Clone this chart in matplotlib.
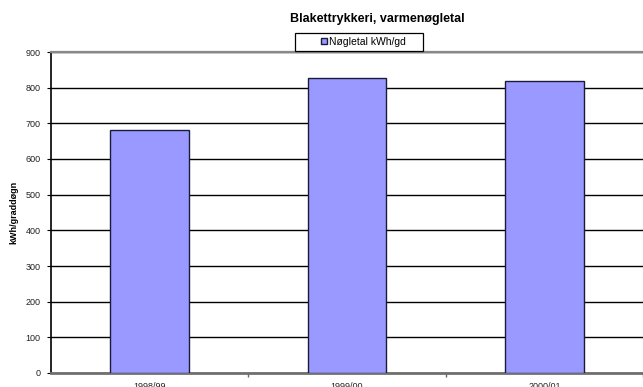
import matplotlib
matplotlib.use("Agg")
import matplotlib.pyplot as plt
from matplotlib.patches import Rectangle

plt.rcParams['font.family'] = ['Liberation Sans', 'DejaVu Sans']

# data
years = ["1998/99", "1999/00", "2000/01"]
values = [681, 828, 819]
series_name = "Nøgletal kWh/gd"
bar_color = "#9999FF"

W, H = 643, 387
fig = plt.figure(figsize=(W / 100, H / 100), dpi=100)
# plot area: left spine at x=51, 0-line at y=373, 900-line at y=52
ax = fig.add_axes([51 / W, (H - 373) / H, 1 - 51 / W, (373 - 52) / H])

pos = list(range(len(years)))
bars = ax.bar(pos, values, width=0.4, color=bar_color, edgecolor="#1a1a3a",
              linewidth=1.0, label=series_name, zorder=3)

ax.set_ylim(0, 900)
ax.set_yticks(range(0, 901, 100))
ax.yaxis.grid(True, color="black", linewidth=1.0, zorder=0)
# picture is cut at the right edge, one category is 200 px wide
ax.set_xlim(-0.5, -0.5 + (W - 51) / 200.3)

# category boundaries get tick marks, labels sit in the middle
ax.set_xticks([p + 0.5 for p in pos])
ax.set_xticklabels([])
ax.set_xticks(pos, minor=True)
ax.set_xticklabels(years, minor=True, fontsize=6.5, color="#222222")
ax.tick_params(axis="x", which="minor", length=0, pad=6.5)
ax.tick_params(axis="x", which="major", length=3, color="#666666", width=1)
ax.tick_params(axis="y", labelsize=6.5, length=3, pad=4.5,
               labelcolor="#222222")

ax.spines["right"].set_visible(False)
ax.spines["top"].set_color("#888888")
ax.spines["top"].set_linewidth(1.6)
ax.spines["bottom"].set_color("#707070")
ax.spines["bottom"].set_linewidth(2.0)
ax.spines["left"].set_color("black")
ax.spines["left"].set_linewidth(1.2)

fig.text(14 / W, 1 - 212 / H, "kWh/graddøgn", rotation=90, ha="center",
         va="center", fontsize=6.5, fontweight="bold")

fig.text(377 / W, 1 - 19 / H, "Blakettrykkeri, varmenøgletal",
         ha="center", va="center", fontsize=9, fontweight="bold")

# legend: box drawn separately, entry placed inside with Excel-like padding
frame = Rectangle((295 / W, 1 - 51 / H), 128 / W, 18 / H,
                  transform=fig.transFigure, facecolor="white",
                  edgecolor="black", linewidth=0.9, zorder=5)
fig.patches.append(frame)
leg = fig.legend(handles=[bars], labels=[series_name], loc="center left",
                 bbox_to_anchor=(321 / W, 1 - 42 / H),
                 bbox_transform=fig.transFigure, fontsize=7.5, frameon=False,
                 handlelength=0.55, handleheight=0.55, handletextpad=0.25,
                 borderpad=0, borderaxespad=0)
leg.set_zorder(6)

fig.savefig("out.png", dpi=100)
